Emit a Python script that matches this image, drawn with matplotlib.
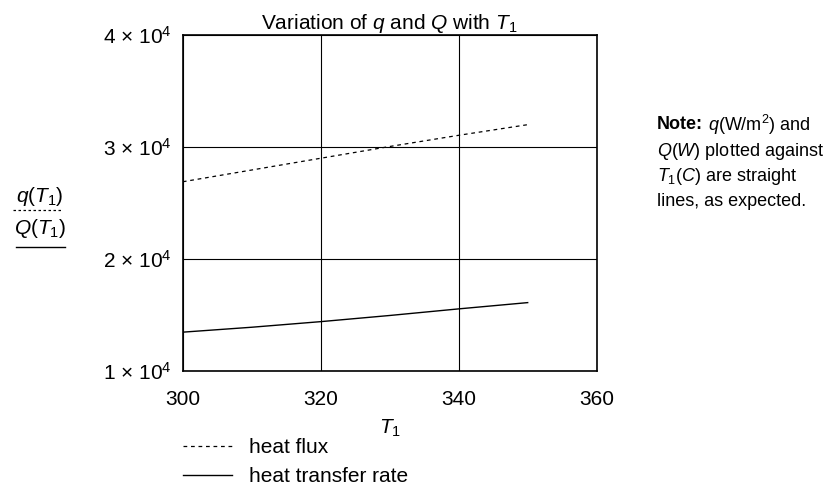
import matplotlib
matplotlib.use("Agg")
import matplotlib.pyplot as plt
from matplotlib.lines import Line2D

plt.rcParams["font.family"] = ["Liberation Sans", "DejaVu Sans"]
plt.rcParams["mathtext.fontset"] = "custom"
plt.rcParams["mathtext.rm"] = "Liberation Sans"
plt.rcParams["mathtext.it"] = "Liberation Sans:italic"
plt.rcParams["mathtext.bf"] = "Liberation Sans:bold"

# data
T1 = [300, 310, 320, 330, 340, 350]
q_flux = [26900, 27950, 29000, 30050, 31050, 32000]
Q_rate = [13460, 13900, 14400, 14950, 15540, 16100]

x_ticks = [300, 320, 340, 360]
y_ticks = [1e4, 2e4, 3e4, 4e4]
y_tick_labels = ["1 × 10$^4$", "2 × 10$^4$", "3 × 10$^4$", "4 × 10$^4$"]

note_first = r" $q$(W/m$^2$) and"
note_lines = [
    r"$Q$($W$) plotted against",
    r"$T_1$($C$) are straight",
    "lines, as expected.",
]

fig = plt.figure(figsize=(8.31, 4.88), dpi=100)
ax = fig.add_axes([0.220, 0.240, 0.498, 0.688])

ax.plot(T1, q_flux, color="black", lw=0.9, ls=(0, (3, 3)), label="heat flux")
ax.plot(T1, Q_rate, color="black", lw=1.0, ls="-", label="heat transfer rate")

ax.set_xlim(300, 360)
ax.set_ylim(1e4, 4e4)
ax.set_xticks(x_ticks)
ax.set_yticks(y_ticks)
ax.set_yticklabels(y_tick_labels)
ax.tick_params(axis="both", length=0, labelsize=15)
ax.tick_params(axis="x", pad=14)
ax.tick_params(axis="y", pad=8)
ax.grid(True, color="black", lw=0.8)
for s in ax.spines.values():
    s.set_linewidth(1.2)
    s.set_color("black")

ax.set_title(r"Variation of $q$ and $Q$ with $T_1$", fontsize=15, pad=3)
ax.set_xlabel(r"$T_1$", fontsize=15, labelpad=6)

# stacked y label with line samples under each name
fig.text(40 / 831, 1 - 196 / 488, r"$q(T_1)$", fontsize=15, ha="center", va="center")
fig.add_artist(Line2D([13 / 831, 63 / 831], [1 - 210 / 488] * 2, color="black",
                      lw=0.9, ls=(0, (2, 2)), transform=fig.transFigure))
fig.text(40 / 831, 1 - 228 / 488, r"$Q(T_1)$", fontsize=15, ha="center", va="center")
fig.add_artist(Line2D([16 / 831, 65 / 831], [1 - 247 / 488] * 2, color="black",
                      lw=1.0, transform=fig.transFigure))

# note on the right
note_head = fig.text(657 / 831, 1 - 125 / 488, "Note:", fontsize=13, fontweight="bold",
                     ha="left", va="center")
ax.annotate(note_first, xy=(1, 0.5), xycoords=note_head, fontsize=13,
            ha="left", va="center", annotation_clip=False)
for i, line in enumerate(note_lines):
    fig.text(657 / 831, 1 - (152 + 25 * i) / 488, line, fontsize=13, ha="left", va="center")

fig.legend(loc="upper left", bbox_to_anchor=(0.220, 1 - 438 / 488), frameon=False,
           fontsize=15, handlelength=2.35, handletextpad=0.85, borderpad=0,
           borderaxespad=0, labelspacing=0.5)

fig.savefig("out.png", dpi=100)
